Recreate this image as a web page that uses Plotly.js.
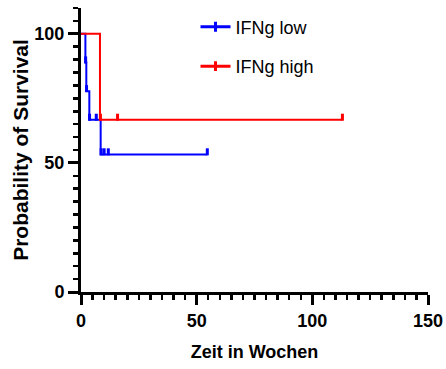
<!DOCTYPE html>
<html>
<head>
<meta charset="utf-8">
<script src="https://cdn.plot.ly/plotly-3.0.1.min.js"></script>
<style>
  html, body { margin: 0; padding: 0; background: #fff; }
  #chart { width: 446px; height: 369px; }
</style>
</head>
<body>
<div id="chart"></div>
<script>
// Kaplan-Meier step data (time in weeks, survival in %)
var lowTimes = [0, 1.9, 2.3, 3.6, 8.5, 54.6];
var lowSurv = [100, 88.9, 77.8, 66.7, 53.3, 53.3];
var lowCensorTimes = [2.0, 2.4, 3.7, 6.6, 8.7, 10.0, 11.8, 54.6];
var lowCensorSurv = [88.9, 77.8, 66.7, 66.7, 53.3, 53.3, 53.3, 53.3];

var highTimes = [0, 8.2, 113];
var highSurv = [100, 66.7, 66.7];
var highCensorTimes = [8.4, 15.8, 113];
var highCensorSurv = [66.7, 66.7, 66.7];

var seriesNames = ['IFNg low', 'IFNg high'];
var xTickVals = [0, 50, 100, 150];
var yTickVals = [0, 50, 100];

var BLUE = '#0000FF', RED = '#FF0000';
var FONT = 'Liberation Sans, Arial, Helvetica, sans-serif';
var tickLift = 1.0; // raise censor ticks so they sit on top of the curve

function lift(arr) { return arr.map(function (v) { return v + tickLift; }); }

var traces = [
  { x: lowTimes, y: lowSurv, mode: 'lines', line: { color: BLUE, width: 2, shape: 'hv' },
    showlegend: false, hoverinfo: 'skip' },
  { x: lowCensorTimes, y: lift(lowCensorSurv), mode: 'markers',
    marker: { symbol: 'line-ns', size: 5, color: BLUE, line: { color: BLUE, width: 3 } },
    showlegend: false, cliponaxis: false },
  { x: highTimes, y: highSurv, mode: 'lines', line: { color: RED, width: 2, shape: 'hv' },
    showlegend: false, hoverinfo: 'skip' },
  { x: highCensorTimes, y: lift(highCensorSurv), mode: 'markers',
    marker: { symbol: 'line-ns', size: 5, color: RED, line: { color: RED, width: 3 } },
    showlegend: false, cliponaxis: false },
  // legend entries
  { x: [null], y: [null], mode: 'lines+markers', name: seriesNames[0], legendgroup: 'a',
    line: { color: BLUE, width: 3 },
    marker: { symbol: 'line-ns', size: 7, color: BLUE, line: { color: BLUE, width: 3 } } },
  { x: [null], y: [null], mode: 'lines+markers', name: seriesNames[1], legendgroup: 'b',
    line: { color: RED, width: 3 },
    marker: { symbol: 'line-ns', size: 7, color: RED, line: { color: RED, width: 3 } } }
];

var layout = {
  width: 446, height: 369,
  margin: { l: 81, r: 18, t: 8, b: 77 },
  paper_bgcolor: '#fff', plot_bgcolor: '#fff',
  font: { family: FONT, color: '#000' },
  showlegend: true,
  legend: {
    x: 0.33, y: 0.998, xanchor: 'left', yanchor: 'top',
    font: { family: FONT, size: 18, color: '#000' },
    traceorder: 'grouped', tracegroupgap: 13,
    bgcolor: 'rgba(0,0,0,0)'
  },
  xaxis: {
    range: [0, 150], tickvals: xTickVals, ticktext: xTickVals.map(String),
    showgrid: false, zeroline: false, showline: true, linecolor: '#000', linewidth: 3,
    ticks: 'outside', ticklen: 10, tickwidth: 3, tickcolor: '#000',
    tickfont: { family: FONT, size: 18, weight: 'bold', color: '#000' },
    minor: { dtick: 5, ticks: 'outside', ticklen: 5, tickwidth: 2.5, tickcolor: '#000', showgrid: false },
    title: { text: 'Zeit in Wochen', font: { family: FONT, size: 18, weight: 'bold', color: '#000' }, standoff: 16 },
    fixedrange: true
  },
  yaxis: {
    range: [0, 110], tickvals: yTickVals, ticktext: yTickVals.map(String),
    showgrid: false, zeroline: false, showline: true, linecolor: '#000', linewidth: 3,
    ticks: 'outside', ticklen: 10, tickwidth: 3, tickcolor: '#000',
    tickfont: { family: FONT, size: 18, weight: 'bold', color: '#000' },
    minor: { dtick: 5, ticks: 'outside', ticklen: 5, tickwidth: 2.5, tickcolor: '#000', showgrid: false },
    title: { text: 'Probability of Survival', font: { family: FONT, size: 21, weight: 'bold', color: '#000' }, standoff: 1 },
    fixedrange: true
  }
};

Plotly.newPlot('chart', traces, layout, { displayModeBar: false, staticPlot: true });
</script>
</body>
</html>
